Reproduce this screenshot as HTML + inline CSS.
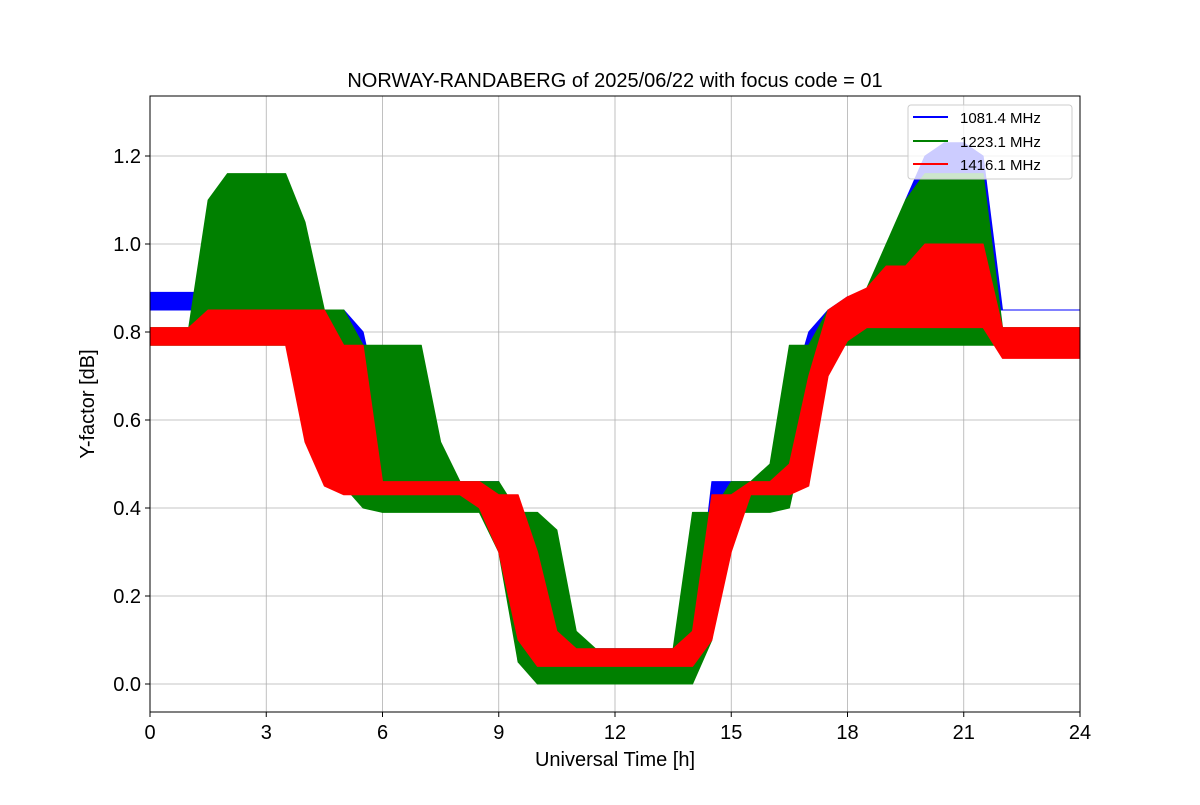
<!DOCTYPE html>
<html><head><meta charset="utf-8"><style>
body{margin:0;background:#fff;width:1200px;height:800px;overflow:hidden}
svg text{font-family:"Liberation Sans","DejaVu Sans",sans-serif;fill:#000}
</style></head><body>
<svg id="chart" width="1200" height="800">
<text x="615" y="87" font-size="20" text-anchor="middle">NORWAY-RANDABERG of 2025/06/22 with focus code = 01</text>
<g id="grid"></g>
<g id="series"></g>
<rect x="150" y="96" width="930" height="616" fill="none" stroke="#000" stroke-width="1"/>
<g id="ticks"></g>
<text x="615" y="766" font-size="20" text-anchor="middle">Universal Time [h]</text>
<text x="94" y="404" font-size="20" text-anchor="middle" transform="rotate(-90 94 404)">Y-factor [dB]</text>
<g>
<rect x="908" y="105" width="164" height="74" rx="3" fill="#fff" fill-opacity="0.8" stroke="#ccc"/>
<line x1="913" y1="117" x2="948" y2="117" stroke="blue" stroke-width="2"/>
<text x="960" y="123" font-size="15">1081.4 MHz</text>
<line x1="913" y1="141" x2="948" y2="141" stroke="green" stroke-width="2"/>
<text x="960" y="147" font-size="15">1223.1 MHz</text>
<line x1="913" y1="164" x2="948" y2="164" stroke="red" stroke-width="2"/>
<text x="960" y="170" font-size="15">1416.1 MHz</text>
</g>
</svg>
<script>
const xTicks=[0,3,6,9,12,15,18,21,24];
const yTicks=[0.0,0.2,0.4,0.6,0.8,1.0,1.2];
const yTickLabels=["0.0","0.2","0.4","0.6","0.8","1.0","1.2"];
const times=[0,0.5,1,1.5,2,2.5,3,3.5,4,4.5,5,5.5,6,6.5,7,7.5,8,8.5,9,9.5,10,10.5,11,11.5,12,12.5,13,13.5,14,14.5,15,15.5,16,16.5,17,17.5,18,18.5,19,19.5,20,20.5,21,21.5,22,22.5,23,23.5,24];
const blueHi=[.89,.89,.89,.89,.89,.89,.89,.89,.85,.85,.85,.8,.6,.46,.46,.46,.46,.46,.46,.3,.08,.08,.08,.08,.08,.08,.08,.08,.08,.46,.46,.46,.46,.65,.8,.85,.88,.88,.9,1.1,1.2,1.23,1.23,1.2,.85,.85,.85,.85,.85];
const blueLo=[.85,.85,.85,.85,.85,.85,.85,.85,.8,.75,.6,.45,.43,.43,.43,.43,.43,.43,.4,.05,.04,.04,.04,.04,.04,.04,.04,.04,.04,.3,.43,.43,.43,.45,.7,.8,.8,.82,.85,.85,.85,.85,.85,.85,.85,.85,.85,.85,.85];
const greenHi=[.81,.81,.81,1.1,1.16,1.16,1.16,1.16,1.05,.85,.85,.77,.77,.77,.77,.55,.46,.46,.46,.39,.39,.35,.12,.08,.08,.08,.08,.08,.39,.39,.46,.46,.5,.77,.77,.85,.85,.9,1.0,1.1,1.16,1.16,1.16,1.16,.81,.81,.81,.81,.81];
const greenLo=[.77,.77,.77,.77,.77,.77,.77,.77,.77,.6,.45,.4,.39,.39,.39,.39,.39,.39,.3,.05,0,0,0,0,0,0,0,0,0,.1,.39,.39,.39,.4,.6,.77,.77,.77,.77,.77,.77,.77,.77,.77,.77,.77,.77,.77,.77];
const redHi=[.81,.81,.81,.85,.85,.85,.85,.85,.85,.85,.77,.77,.46,.46,.46,.46,.46,.46,.43,.43,.3,.12,.08,.08,.08,.08,.08,.08,.12,.43,.43,.46,.46,.5,.7,.85,.88,.9,.95,.95,1.0,1.0,1.0,1.0,.81,.81,.81,.81,.81];
const redLo=[.77,.77,.77,.77,.77,.77,.77,.77,.55,.45,.43,.43,.43,.43,.43,.43,.43,.4,.3,.1,.04,.04,.04,.04,.04,.04,.04,.04,.04,.1,.3,.43,.43,.43,.45,.7,.78,.81,.81,.81,.81,.81,.81,.81,.74,.74,.74,.74,.74];

const NS="http://www.w3.org/2000/svg";
const X=t=>150+t*(930/24);
const Y=v=>684-v*440;
const grid=document.getElementById('grid'),ticks=document.getElementById('ticks'),ser=document.getElementById('series');
function mk(tag,attrs,parent){const e=document.createElementNS(NS,tag);for(const k in attrs)e.setAttribute(k,attrs[k]);parent.appendChild(e);return e;}
xTicks.forEach(t=>{
  const g=mk('line',{x1:X(t),x2:X(t),y1:96,y2:712,stroke:'#b0b0b0','stroke-width':0.8},grid);
  
  
  const tk=mk('line',{x1:X(t),x2:X(t),y1:712,y2:717,stroke:'#000'},ticks);
  
  
  const tx=mk('text',{x:X(t),y:739,'font-size':20,'text-anchor':'middle'},ticks);
  tx.textContent=t;
  
  
});
yTicks.forEach((v,i)=>{
  const g=mk('line',{x1:150,x2:1080,y1:Y(v),y2:Y(v),stroke:'#b0b0b0','stroke-width':0.8},grid);
  
  
  const tk=mk('line',{x1:145,x2:150,y1:Y(v),y2:Y(v),stroke:'#000'},ticks);
  
  
  const tx=mk('text',{x:141,y:Y(v)+7,'font-size':20,'text-anchor':'end'},ticks);
  tx.textContent=yTickLabels[i];
  
  
});
function band(hi,lo,color,name){
  let pts=[];
  times.forEach((t,i)=>pts.push(X(t)+','+Y(hi[i])));
  for(let i=times.length-1;i>=0;i--)pts.push(X(times[i])+','+Y(lo[i]));
  const p=mk('polygon',{points:pts.join(' '),fill:color,stroke:color,'stroke-width':1,'stroke-linejoin':'round'},ser);
  
  
}
band(blueHi,blueLo,'blue','series-1081-mhz');
band(greenHi,greenLo,'green','series-1223-mhz');
band(redHi,redLo,'red','series-1416-mhz');
</script>
</body></html>
